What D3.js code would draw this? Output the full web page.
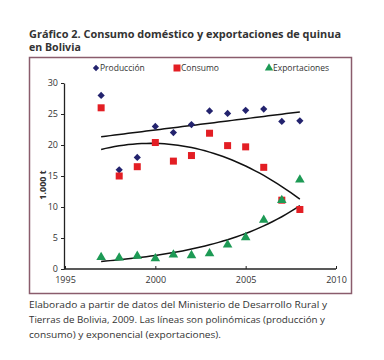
<!DOCTYPE html>
<html><head><meta charset="utf-8">
<script src="https://cdn.jsdelivr.net/npm/d3@7"></script>
<style>body{margin:0;background:#fff}svg{display:block}</style>
</head><body>
<script>
const years = [1997,1998,1999,2000,2001,2002,2003,2004,2005,2006,2007,2008];
const produccion = [28,16,18,23,22,23.3,25.5,25.1,25.6,25.8,23.8,23.9];
const consumo = [26,15,16.5,20.4,17.4,18.3,21.9,19.9,19.7,16.4,11.1,9.6];
const exportaciones = [1.9,1.8,2.1,1.7,2.3,2.2,2.5,3.9,5.1,7.9,11.1,14.4];
const xTicks = [1995,2000,2005,2010];
const yTicks = [0,5,10,15,20,25,30];
const titleLines = ["Gráfico 2. Consumo doméstico y exportaciones de quinua","en Bolivia"];
const captionLines = ["Elaborado a partir de datos del Ministerio de Desarrollo Rural y","Tierras de Bolivia, 2009. Las líneas son polinómicas (producción y","consumo) y exponencial (exportaciones)."];
const seriesNames = ["Producción","Consumo","Exportaciones"];

const W=384,H=360;
const svg=d3.select("body").append("svg").attr("width",W).attr("height",H);
const font="'Open Sans', 'Noto Sans', sans-serif";
const x=d3.scaleLinear().domain([1995,2010]).range([65,336]);
const y=d3.scaleLinear().domain([0,30]).range([269,83]);

// title
const titleLen=[312,null];
svg.append("g").selectAll("text").data(titleLines).join("text")
  .attr("x",29).attr("y",(d,i)=>37.5+i*13.5).attr("font-family",font).attr("font-weight",700)
  .attr("font-size",10.6).attr("fill","#333").text(d=>d)
  .each(function(d,i){ if(titleLen[i]) d3.select(this).attr("textLength",titleLen[i]).attr("lengthAdjust","spacingAndGlyphs"); });

// box
svg.append("rect").attr("x",29.5).attr("y",57.5).attr("width",322).attr("height",236)
  .attr("fill","none").attr("stroke","#8a5c6c").attr("stroke-width",1.5);

// axes
const xa=svg.append("g").attr("transform","translate(0,269)")
  .call(d3.axisBottom(x).tickValues(xTicks).tickFormat(d3.format("d")).tickSizeInner(-3).tickSizeOuter(0).tickPadding(8));
const ya=svg.append("g").attr("transform","translate(64,0)")
  .call(d3.axisLeft(y).tickValues(yTicks).tickSizeInner(3).tickSizeOuter(0).tickPadding(3));
[xa,ya].forEach(g=>{g.select(".domain").attr("stroke","#222").attr("stroke-width",1.3);
  g.selectAll(".tick line").attr("stroke","#222");
  g.selectAll("text").attr("font-family",font).attr("font-size",9).attr("fill","#333");});
xa.select(".domain").attr("d","M64,0H336");

svg.append("text").attr("transform","translate(46,185) rotate(-90)").attr("text-anchor","middle")
  .attr("font-family",font).attr("font-weight",700).attr("font-size",9).attr("fill","#333").text("1.000 t");

// fits
function polyfit(xs,ys,deg){
  const n=deg+1; const A=[...Array(n)].map(()=>Array(n+1).fill(0));
  xs.forEach((xv,k)=>{for(let i=0;i<n;i++){for(let j=0;j<n;j++)A[i][j]+=Math.pow(xv,i+j);A[i][n]+=Math.pow(xv,i)*ys[k];}});
  for(let i=0;i<n;i++){let p=A[i][i];for(let j=i;j<=n;j++)A[i][j]/=p;
    for(let r=0;r<n;r++)if(r!==i){const f=A[r][i];for(let j=i;j<=n;j++)A[r][j]-=f*A[i][j];}}
  return A.map(r=>r[n]);
}
const xs=years.map(d=>d-1997);
const cp=polyfit(xs,produccion,1), cc=polyfit(xs,consumo,2), ce=polyfit(xs,exportaciones.map(Math.log),1);
const samples=d3.range(0,11.01,0.25);
const line=d3.line().x(d=>x(d[0]+1997)).y(d=>y(d[1])).curve(d3.curveLinear);
const fits=[
  samples.map(t=>[t,cp[0]+cp[1]*t]),
  samples.map(t=>[t,cc[0]+cc[1]*t+cc[2]*t*t]),
  samples.map(t=>[t,Math.exp(ce[0]+ce[1]*t)])];
svg.append("g").selectAll("path").data(fits).join("path").attr("d",line)
  .attr("fill","none").attr("stroke","#111").attr("stroke-width",1.5);

// markers
const cols={p:"#23236e",c:"#e31e24",e:"#1d9a55"};
svg.append("g").selectAll("path").data(years.map((yr,i)=>[yr,produccion[i]])).join("path")
  .attr("transform",d=>`translate(${x(d[0])},${y(d[1])}) rotate(45)`).attr("d",d3.symbol().type(d3.symbolSquare).size(26)()).attr("fill",cols.p);
svg.append("g").selectAll("rect").data(years.map((yr,i)=>[yr,consumo[i]])).join("rect")
  .attr("x",d=>x(d[0])-3.5).attr("y",d=>y(d[1])-3.5).attr("width",7).attr("height",7).attr("fill",cols.c);
svg.append("g").selectAll("path").data(years.map((yr,i)=>[yr,exportaciones[i]])).join("path")
  .attr("transform",d=>`translate(${x(d[0])},${y(d[1])})`).attr("d",d3.symbol().type(d3.symbolTriangle).size(40)()).attr("fill",cols.e);

// legend
const lg=[{n:seriesNames[0],x:96,t:"d"},{n:seriesNames[1],x:177,t:"s"},{n:seriesNames[2],x:269,t:"t"}];
const L=svg.append("g");
lg.forEach(o=>{
  if(o.t==="d") L.append("path").attr("transform",`translate(${o.x},68) rotate(45)`).attr("d",d3.symbol().type(d3.symbolSquare).size(20)()).attr("fill",cols.p);
  if(o.t==="s") L.append("rect").attr("x",o.x-3.5).attr("y",64.5).attr("width",7).attr("height",7).attr("fill",cols.c);
  if(o.t==="t") L.append("path").attr("transform",`translate(${o.x},68)`).attr("d",d3.symbol().type(d3.symbolTriangle).size(30)()).attr("fill",cols.e);
  L.append("text").attr("x",o.x+4).attr("y",71).attr("font-family",font).attr("font-size",8.5).attr("fill","#333").text(o.n);
});

// caption
const capLen=[298,296,192];
svg.append("g").selectAll("text").data(captionLines).join("text")
  .attr("x",29).attr("y",(d,i)=>308+i*15).attr("font-family",font).attr("font-size",9.6).attr("fill","#333")
  .attr("textLength",(d,i)=>capLen[i]).attr("lengthAdjust","spacingAndGlyphs").text(d=>d);
</script>
</body></html>
